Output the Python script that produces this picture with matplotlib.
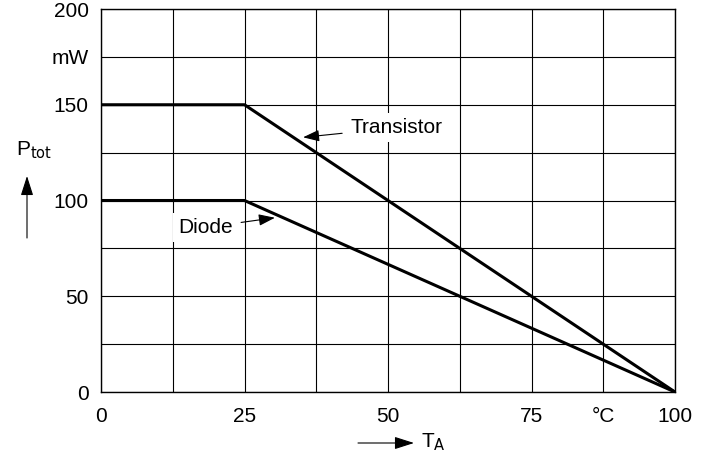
import matplotlib
matplotlib.use("Agg")
import matplotlib.pyplot as plt

# derating curves
temp = [0, 25, 100]
transistor = [150, 150, 0]
diode = [100, 100, 0]

x_ticks = [0, 12.5, 25, 37.5, 50, 62.5, 75, 87.5, 100]
x_labels = ["0", "", "25", "", "50", "", "75", "°C", "100"]
y_ticks = [0, 25, 50, 75, 100, 125, 150, 175, 200]
y_labels = ["0", "", "50", "", "100", "", "150", "mW", "200"]

plt.rcParams["font.family"] = ["Liberation Sans", "DejaVu Sans"]
plt.rcParams["font.size"] = 15

fig = plt.figure(figsize=(7.04, 4.57), dpi=100)
ax = fig.add_axes([0.1435, 0.1422, 0.8153, 0.8381])

ax.plot(temp, transistor, color="black", lw=2.2, solid_capstyle="butt", zorder=3)
ax.plot(temp, diode, color="black", lw=2.2, solid_capstyle="butt", zorder=3)

ax.set_xlim(0, 100)
ax.set_ylim(0, 200)
ax.set_xticks(x_ticks)
ax.set_xticklabels(x_labels)
ax.set_yticks(y_ticks)
ax.set_yticklabels(y_labels)
ax.tick_params(length=0)
ax.tick_params(axis="x", pad=11)
ax.tick_params(axis="y", pad=9)
ax.grid(True, color="black", lw=0.8)
ax.set_axisbelow(True)
for s in ax.spines.values():
    s.set_linewidth(1.0)

# labels with arrows
arrow = dict(arrowstyle="-|>,head_length=0.45,head_width=0.16", color="black", lw=0.8,
             mutation_scale=22, shrinkA=2, shrinkB=0)
ax.annotate("Transistor", xy=(35.2, 133), xytext=(43.4, 138), va="center", ha="left",
            arrowprops=arrow, bbox=dict(boxstyle="square,pad=0.25", fc="white", ec="none"), zorder=4)
ax.annotate("Diode", xy=(30.3, 91), xytext=(13.5, 86), va="center", ha="left",
            arrowprops=arrow, bbox=dict(boxstyle="square,pad=0.25", fc="white", ec="none"), zorder=4)

# axis names with arrows
axis_arrow = dict(arrowstyle="-|>,head_length=0.5,head_width=0.16", color="black", lw=0.8,
                  mutation_scale=24, shrinkA=0, shrinkB=0)
fig.text(16 / 704, 1 - 150 / 457, r"P$_{\mathrm{tot}}$", ha="left", va="center", fontsize=15)
ax.annotate("", xy=(27, 457 - 176), xytext=(27, 457 - 238), xycoords="figure pixels", arrowprops=axis_arrow)
ax.annotate("", xy=(414, 457 - 443), xytext=(358, 457 - 443), xycoords="figure pixels", arrowprops=axis_arrow)
fig.text(421 / 704, 1 - 442 / 457, r"T$_{\mathrm{A}}$", ha="left", va="center", fontsize=15)

plt.savefig("out.png", dpi=100)
